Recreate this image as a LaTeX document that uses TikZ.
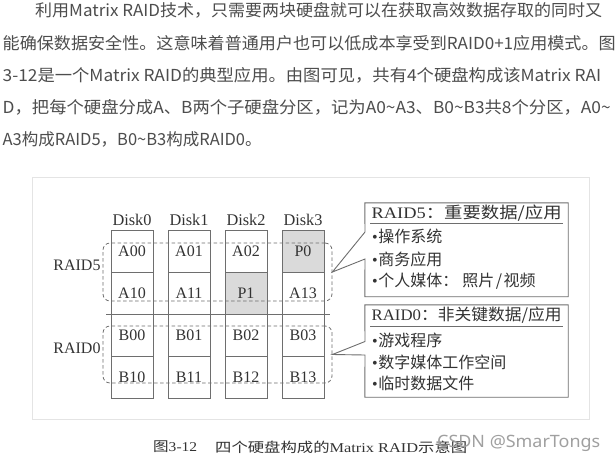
\documentclass[tikz,border=0pt]{standalone}
\usepackage{fontspec}
\setmainfont{Liberation Serif}
\newfontfamily\cjk{Noto Sans CJK SC}
\newfontfamily\wmfont{Noto Sans}
\usetikzlibrary{calc}
\definecolor{paratext}{HTML}{4D4D4D}
\definecolor{figline}{HTML}{6E6E6E}
\definecolor{figtext}{HTML}{333333}
\definecolor{cellgray}{HTML}{DADADA}
\definecolor{framecol}{HTML}{E4E4E4}
\definecolor{wmcol}{HTML}{A0A0A0}
\newsavebox\fitbox
\newcommand\fitline[2]{\sbox\fitbox{#2}\pgfmathsetmacro\fitr{#1/(\the\wd\fitbox)}\scalebox{\fitr}[1]{\usebox\fitbox}}
\newcommand\bul{{\rmfamily\textbullet}\kern0.5pt}
\tikzset{
  para/.style={anchor=west, inner sep=0pt, text=paratext, font=\cjk\fontsize{16.5}{20}\selectfont},
  cell/.style={draw=figline, line width=0.8pt, minimum width=42pt, minimum height=42pt, inner sep=0pt, text=figtext, font=\fontsize{16}{18}\selectfont},
  pcell/.style={cell, fill=cellgray},
  disklabel/.style={inner sep=0pt, text=figtext, font=\fontsize{16.3}{18}\selectfont},
  grouplabel/.style={inner sep=0pt, text=figtext, font=\fontsize{16}{18}\selectfont},
  group/.style={draw=figline, line width=0.8pt, dash pattern=on 3.5pt off 2.5pt, rounded corners=7pt, minimum width=229pt, inner sep=0pt},
  boxarea/.style={minimum width=203pt, inner sep=0pt},
  boxline/.style={draw=figline, line width=0.9pt},
  boxtext/.style={anchor=west, inner sep=0pt, text=figtext, font=\fontsize{16}{18}\selectfont},
  sepline/.style={draw=figline, line width=0.9pt},
}
\begin{document}
\begin{tikzpicture}[x=1pt,y=-1pt]
\useasboundingbox (0,0) rectangle (615,463);
\fill[white] (0,0) rectangle (615,463);

% paragraph
\node[para] (p1) at (35,10.5) {\fitline{567}{利用Matrix RAID技术，只需要两块硬盘就可以在获取高效数据存取的同时又}};
\node[para] (p2) at (2.5,42.8) {\fitline{613}{能确保数据安全性。这意味着普通用户也可以低成本享受到RAID0+1应用模式。图}};
\node[para] (p3) at (2.5,75.1) {\fitline{598.5}{3-12是一个Matrix RAID的典型应用。由图可见，共有4个硬盘构成该Matrix RAI}};
\node[para] (p4) at (2.5,107.4) {\fitline{608}{D，把每个硬盘分成A、B两个子硬盘分区，记为A0\textasciitilde A3、B0\textasciitilde B3共8个分区，A0\textasciitilde}};
\node[para] (p5) at (2.5,139.7) {A3构成RAID5，B0\textasciitilde B3构成RAID0。};

% frame
\node[draw=framecol, line width=1pt, fill=white, minimum width=557pt, minimum height=242pt, inner sep=0pt] (frame) at (310.5,298) {};

% disk labels
\node[disklabel] (d0) at (132,220) {Disk0};
\node[disklabel] (d1) at (189,220) {Disk1};
\node[disklabel] (d2) at (246,220) {Disk2};
\node[disklabel] (d3) at (303,220) {Disk3};

% cells
\node[cell]  (a00) at (132,251) {A00};
\node[cell]  (a01) at (189,251) {A01};
\node[cell]  (a02) at (246,251) {A02};
\node[pcell] (p0)  at (303,251) {P0};
\node[cell]  (a10) at (132,293) {A10};
\node[cell]  (a11) at (189,293) {A11};
\node[pcell] (pp1) at (246,293) {P1};
\node[cell]  (a13) at (303,293) {A13};
\node[cell]  (b00) at (132,335) {B00};
\node[cell]  (b01) at (189,335) {B01};
\node[cell]  (b02) at (246,335) {B02};
\node[cell]  (b03) at (303,335) {B03};
\node[cell]  (b10) at (132,377) {B10};
\node[cell]  (b11) at (189,377) {B11};
\node[cell]  (b12) at (246,377) {B12};
\node[cell]  (b13) at (303,377) {B13};

% separator
\coordinate (sepL) at (106,314);
\coordinate (sepR) at (330,314);
\draw[sepline] (sepL) -- (sepR);

% dashed groups
\node[group, minimum height=58pt] (g5) at (217.5,272) {};
\node[group, minimum height=57pt] (g0) at (217.5,354.5) {};
\node[grouplabel] (l5) at (77,265) {RAID5};
\node[grouplabel] (l0) at (77,348) {RAID0};

% callout boxes
\node[boxarea, minimum height=93.5pt] (b5) at (466.5,249.75) {};
\node[boxarea, minimum height=92pt] (b0) at (466.5,351) {};
\coordinate (w5a) at (365,232);
\coordinate (w5b) at (365,259);
\coordinate (w0a) at (365,341.5);
\coordinate (w0b) at (365,355);
\draw[boxline] (w5a) -- (b5.north west) -- (b5.north east) -- (b5.south east) -- (b5.south west) -- (w5b) -- (g5.east) -- cycle;
\draw[boxline] (w0a) -- (b0.north west) -- (b0.north east) -- (b0.south east) -- (b0.south west) -- (w0b) -- (g0.east) -- cycle;

\node[boxtext] (t5) at (371.5,213) {\fitline{190}{RAID5{\cjk ：重要数据/应用}}};
\coordinate (u5l) at (370,223.5);
\coordinate (u5r) at (563,223.5);
\draw[boxline] (u5l) -- (u5r);
\node[boxtext] (i51) at (372,236) {\bul{\cjk 操作系统}};
\node[boxtext] (i52) at (372,259.5) {\bul{\cjk 商务应用}};
\node[boxtext] (i53) at (372,281) {\bul{\cjk 个人媒体：\kern4pt 照片\kern1.5pt/\kern1.5pt 视频}};

\node[boxtext] (t0) at (371.5,315.5) {\fitline{190}{RAID0{\cjk ：非关键数据/应用}}};
\coordinate (u0l) at (370,326);
\coordinate (u0r) at (563,326);
\draw[boxline] (u0l) -- (u0r);
\node[boxtext] (i01) at (372,340) {\bul{\cjk 游戏程序}};
\node[boxtext] (i02) at (372,362) {\bul{\cjk 数字媒体工作空间}};
\node[boxtext] (i03) at (372,383.5) {\bul{\cjk 临时数据文件}};

% caption
\node[anchor=west, inner sep=0pt, text=figtext, font=\fontsize{13.5}{15}\selectfont] (capnum) at (153,447) {\fitline{44}{{\cjk 图}3-12}};
\node[anchor=west, inner sep=0pt, text=figtext, font=\fontsize{13.5}{15}\selectfont] (captext) at (215,447) {\fitline{252}{{\cjk 四个硬盘构成的}Matrix RAID{\cjk 示意图}}};

% watermark
\node[anchor=west, inner sep=0pt, text=wmcol] (wm) at (437,443) {\fitline{163}{\wmfont\fontsize{17}{20}\selectfont CSDN @SmarTongs}};
\end{tikzpicture}
\end{document}
